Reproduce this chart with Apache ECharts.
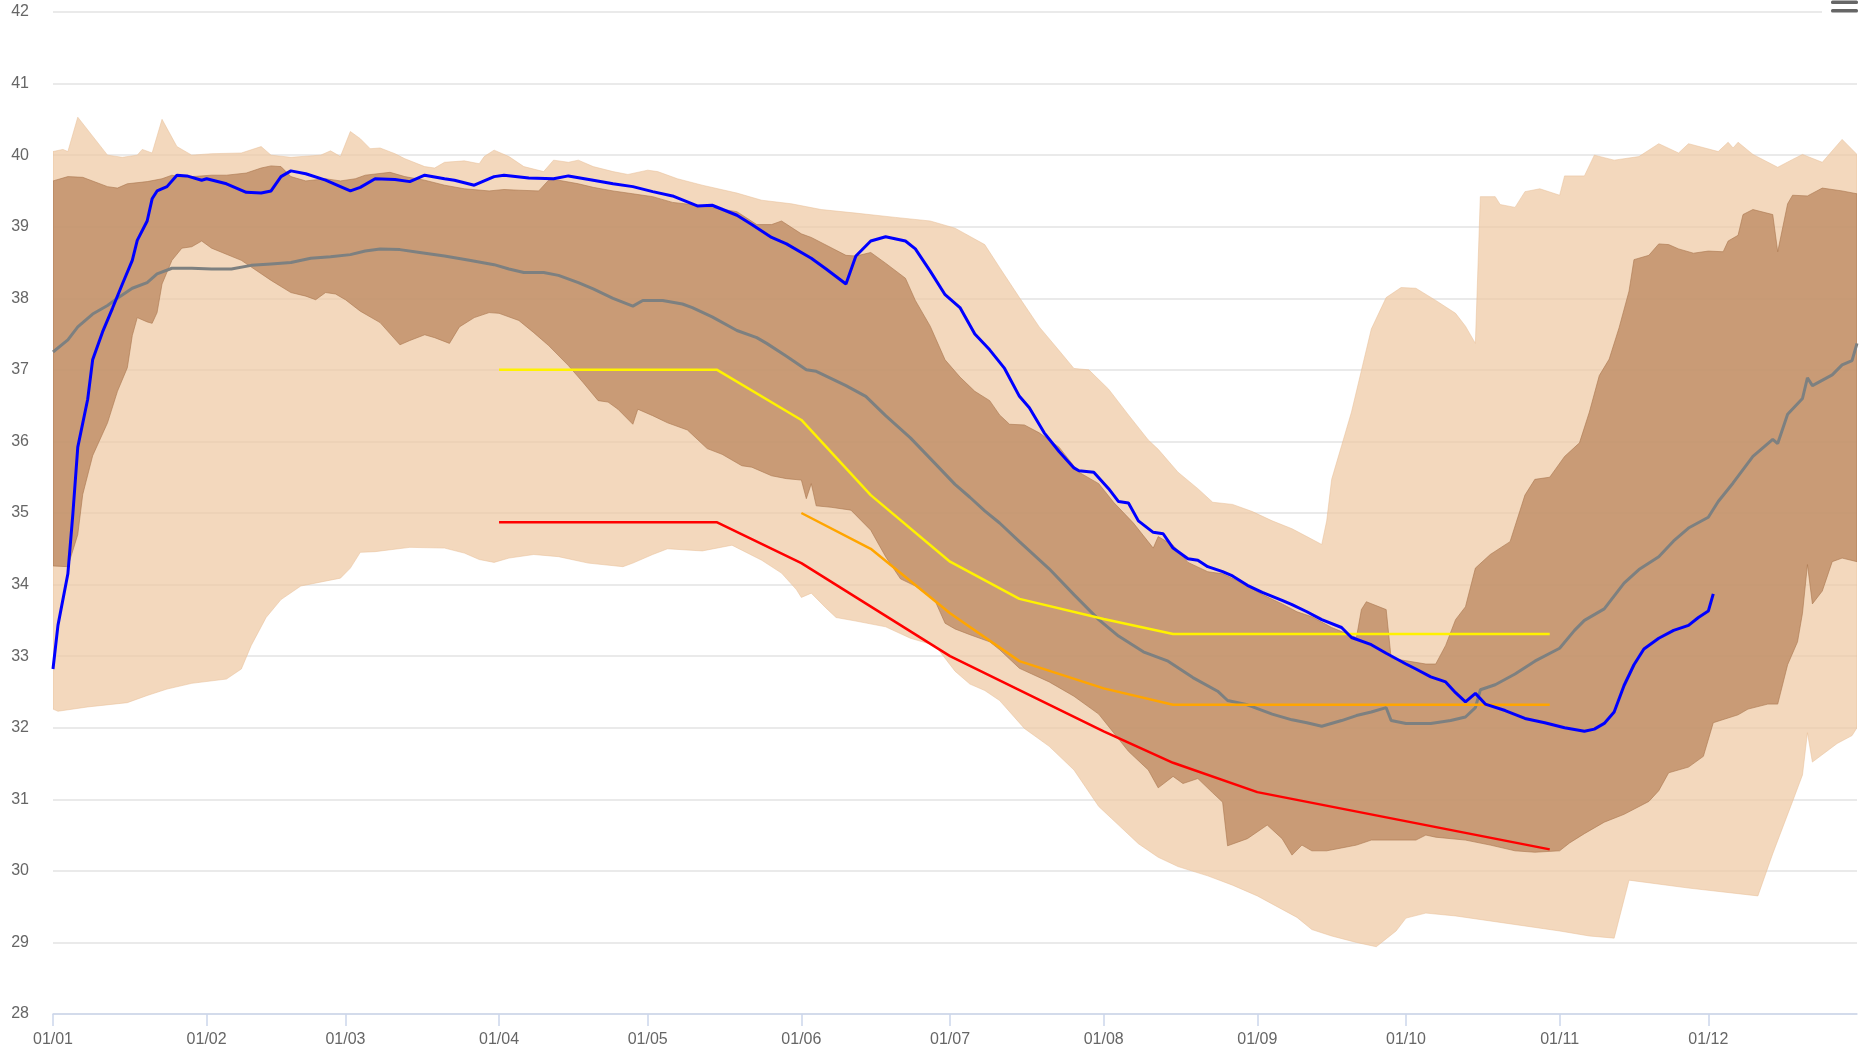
<!DOCTYPE html>
<html><head><meta charset="utf-8">
<script src="https://cdn.jsdelivr.net/npm/echarts@6/dist/echarts.min.js"></script>
<style>html,body{margin:0;padding:0;background:#fff;overflow:hidden}#c{width:1860px;height:1054px}</style>
</head><body><div id="c"></div>
<script>
// ---- axis data ----
const monthLengths = [31,28,31,30,31,30,31,31,30,31,30,31];
const yMin = 28, yMax = 42, yStep = 1;

// ---- series data: [dayOfYear (0 = 01/01), value] ----
const lightUpper = [[0,40.05],[2,40.08],[3,40.05],[5,40.53],[11,40.0],[14,39.97],[17,40.0],[18,40.08],[20,40.03],[22,40.5],[25,40.12],[28,40.0],[32,40.02],[38,40.03],[42,40.12],[44,40.0],[48,39.97],[54,40.0],[56,40.06],[58,39.98],[60,40.33],[62,40.23],[64,40.09],[66,40.1],[69,40.02],[71,39.95],[75,39.84],[77,39.82],[79,39.9],[83,39.92],[86,39.88],[87,39.98],[89,40.07],[92,39.98],[95,39.84],[99,39.77],[101,39.93],[104,39.9],[106,39.93],[109,39.84],[113,39.77],[116,39.73],[120,39.79],[122,39.77],[126,39.67],[131,39.58],[138,39.47],[143,39.37],[149,39.32],[155,39.24],[162,39.19],[170,39.13],[177,39.08],[182,38.98],[188,38.75],[191,38.43],[195,38.01],[199,37.6],[203,37.27],[206,37.02],[209,37.0],[213,36.73],[217,36.37],[221,36.02],[223,35.89],[227,35.57],[231,35.34],[234,35.15],[238,35.12],[242,35.02],[246,34.89],[250,34.78],[253,34.67],[256,34.56],[257,34.89],[258,35.47],[260,35.94],[262,36.41],[264,36.99],[266,37.57],[269,38.01],[272,38.15],[275,38.14],[279,37.97],[283,37.79],[285,37.61],[287,37.37],[288,39.42],[291,39.42],[292,39.31],[295,39.27],[297,39.49],[300,39.53],[304,39.44],[305,39.71],[309,39.71],[311,40.0],[315,39.93],[320,39.98],[324,40.16],[328,40.03],[330,40.16],[336,40.05],[338,40.18],[339,40.1],[340,40.18],[343,40.01],[348,39.83],[351,39.94],[353,40.01],[357,39.9],[361,40.22],[364,40.01]];
const lightLower = [[0,32.26],[1,32.23],[7,32.29],[15,32.35],[19,32.45],[23,32.54],[28,32.62],[35,32.68],[38,32.82],[40,33.15],[43,33.54],[46,33.79],[50,33.98],[58,34.09],[60,34.23],[62,34.45],[65,34.46],[72,34.52],[79,34.51],[83,34.44],[86,34.35],[89,34.31],[92,34.37],[97,34.42],[102,34.39],[108,34.3],[115,34.25],[117,34.3],[121,34.42],[124,34.5],[131,34.47],[137,34.55],[143,34.34],[147,34.16],[150,33.93],[151,33.82],[153,33.88],[156,33.67],[158,33.54],[162,33.49],[168,33.41],[173,33.25],[178,33.15],[182,32.79],[185,32.61],[188,32.52],[191,32.38],[196,31.99],[201,31.74],[206,31.41],[211,30.9],[215,30.64],[219,30.38],[223,30.19],[227,30.06],[233,29.93],[238,29.8],[243,29.65],[247,29.5],[251,29.35],[254,29.18],[258,29.09],[263,29.0],[267,28.94],[271,29.16],[273,29.34],[277,29.41],[283,29.37],[290,29.3],[297,29.23],[304,29.16],[310,29.09],[315,29.06],[318,29.87],[330,29.76],[344,29.65],[347,30.24],[351,30.97],[353,31.34],[354,31.93],[355,31.52],[360,31.78],[363,31.89],[364,32.0]];
const darkUpper = [[0,39.64],[3,39.7],[6,39.69],[11,39.56],[13,39.54],[15,39.6],[19,39.63],[22,39.67],[24,39.72],[26,39.69],[32,39.72],[35,39.72],[39,39.75],[42,39.82],[44,39.85],[46,39.84],[48,39.7],[51,39.64],[55,39.67],[58,39.64],[61,39.67],[63,39.72],[68,39.76],[71,39.7],[75,39.65],[79,39.58],[83,39.53],[88,39.5],[91,39.52],[94,39.51],[98,39.5],[100,39.65],[102,39.65],[106,39.6],[109,39.55],[113,39.5],[117,39.46],[121,39.42],[125,39.34],[130,39.3],[138,39.21],[142,39.03],[145,39.03],[147,39.08],[151,38.9],[153,38.85],[160,38.6],[162,38.59],[165,38.64],[168,38.49],[172,38.28],[174,37.97],[177,37.61],[180,37.14],[183,36.9],[186,36.7],[189,36.57],[191,36.37],[193,36.24],[196,36.23],[199,36.12],[203,35.92],[207,35.57],[211,35.41],[214,35.15],[218,34.86],[222,34.51],[223,34.67],[226,34.55],[229,34.31],[233,34.18],[236,34.15],[240,34.02],[244,33.86],[248,33.73],[251,33.62],[254,33.55],[258,33.4],[263,33.26],[264,33.65],[265,33.76],[269,33.65],[270,32.97],[277,32.89],[279,32.89],[281,33.15],[283,33.51],[285,33.69],[287,34.23],[290,34.42],[294,34.6],[297,35.25],[299,35.47],[302,35.5],[305,35.79],[308,35.98],[310,36.41],[312,36.92],[314,37.15],[316,37.59],[318,38.1],[319,38.54],[322,38.6],[324,38.76],[326,38.75],[328,38.69],[331,38.63],[334,38.66],[337,38.65],[338,38.8],[340,38.88],[341,39.17],[343,39.24],[347,39.17],[348,38.65],[350,39.32],[351,39.44],[354,39.43],[357,39.54],[361,39.5],[364,39.46]];
const darkLower = [[0,34.26],[3,34.25],[5,34.7],[6,35.26],[8,35.8],[11,36.26],[13,36.7],[15,37.03],[16,37.48],[17,37.73],[19,37.67],[20,37.65],[21,37.8],[22,38.2],[24,38.53],[26,38.7],[28,38.72],[30,38.8],[32,38.7],[38,38.53],[44,38.25],[48,38.08],[51,38.03],[53,37.98],[55,38.08],[57,38.06],[59,37.98],[62,37.82],[66,37.66],[70,37.35],[72,37.41],[75,37.49],[77,37.45],[80,37.37],[82,37.6],[85,37.73],[88,37.8],[90,37.79],[94,37.69],[97,37.52],[100,37.34],[104,37.06],[107,36.82],[110,36.57],[112,36.55],[114,36.45],[117,36.24],[118,36.45],[121,36.36],[124,36.26],[128,36.16],[132,35.9],[135,35.82],[139,35.66],[141,35.64],[145,35.52],[148,35.48],[151,35.46],[152,35.2],[153,35.41],[154,35.1],[157,35.08],[161,35.04],[165,34.76],[168,34.39],[171,34.08],[174,33.98],[178,33.77],[180,33.46],[182,33.38],[185,33.3],[189,33.2],[191,33.09],[195,32.83],[201,32.64],[206,32.44],[211,32.19],[214,31.93],[217,31.67],[221,31.41],[223,31.16],[226,31.32],[228,31.22],[231,31.29],[234,31.09],[236,30.96],[237,30.35],[241,30.45],[245,30.64],[248,30.45],[250,30.22],[252,30.36],[254,30.28],[257,30.28],[260,30.32],[263,30.36],[266,30.43],[275,30.43],[277,30.5],[279,30.47],[285,30.43],[290,30.36],[295,30.28],[299,30.26],[304,30.28],[306,30.39],[309,30.52],[313,30.68],[317,30.79],[322,30.97],[324,31.12],[326,31.37],[330,31.45],[333,31.6],[335,32.07],[340,32.18],[342,32.26],[346,32.33],[348,32.33],[350,32.88],[352,33.2],[353,33.6],[354,34.28],[355,33.73],[357,33.91],[359,34.32],[361,34.37],[364,34.32]];
const median = [[0,37.25],[3,37.42],[5,37.6],[8,37.78],[11,37.9],[13,38.0],[16,38.14],[19,38.22],[21,38.34],[24,38.42],[28,38.42],[32,38.41],[36,38.41],[40,38.46],[44,38.48],[48,38.5],[52,38.56],[56,38.58],[60,38.61],[63,38.66],[66,38.69],[70,38.68],[74,38.64],[79,38.59],[84,38.53],[89,38.47],[92,38.41],[95,38.36],[99,38.36],[102,38.32],[106,38.22],[109,38.13],[113,38.0],[117,37.89],[119,37.97],[123,37.97],[127,37.92],[129,37.87],[133,37.74],[138,37.55],[142,37.45],[144,37.37],[148,37.19],[152,37.0],[154,36.98],[160,36.78],[164,36.63],[168,36.36],[173,36.05],[178,35.69],[182,35.4],[185,35.22],[188,35.03],[191,34.86],[195,34.6],[201,34.22],[206,33.86],[211,33.51],[215,33.28],[220,33.06],[225,32.93],[230,32.7],[235,32.51],[237,32.38],[241,32.32],[246,32.19],[250,32.11],[253,32.07],[256,32.02],[260,32.1],[263,32.17],[266,32.22],[269,32.28],[270,32.1],[273,32.06],[278,32.06],[282,32.1],[285,32.15],[287,32.28],[288,32.53],[291,32.6],[295,32.75],[299,32.93],[304,33.11],[307,33.36],[309,33.5],[313,33.66],[317,34.02],[320,34.21],[324,34.39],[327,34.61],[330,34.79],[334,34.94],[336,35.16],[339,35.42],[343,35.79],[347,36.03],[348,35.97],[350,36.38],[353,36.6],[354,36.89],[355,36.78],[359,36.93],[361,37.07],[363,37.13],[364,37.37]];
const current = [[0,32.82],[1,33.43],[3,34.15],[4,34.98],[5,35.92],[7,36.59],[8,37.14],[10,37.53],[12,37.86],[14,38.2],[16,38.53],[17,38.81],[19,39.08],[20,39.39],[21,39.5],[23,39.56],[25,39.72],[27,39.71],[30,39.65],[31,39.67],[35,39.6],[39,39.48],[42,39.47],[44,39.5],[46,39.7],[48,39.78],[51,39.74],[55,39.65],[58,39.56],[60,39.5],[62,39.55],[65,39.67],[69,39.66],[72,39.63],[75,39.72],[79,39.67],[81,39.65],[85,39.58],[89,39.7],[91,39.72],[96,39.68],[101,39.67],[104,39.71],[109,39.65],[113,39.6],[117,39.56],[121,39.49],[125,39.43],[130,39.29],[133,39.3],[138,39.16],[141,39.03],[145,38.85],[148,38.76],[153,38.56],[156,38.41],[160,38.2],[162,38.59],[165,38.8],[168,38.86],[172,38.8],[174,38.69],[177,38.38],[180,38.05],[183,37.87],[186,37.5],[189,37.28],[192,37.02],[195,36.63],[197,36.47],[200,36.12],[203,35.86],[206,35.63],[207,35.59],[210,35.57],[213,35.34],[215,35.16],[217,35.14],[219,34.89],[222,34.73],[224,34.71],[226,34.51],[229,34.36],[231,34.34],[233,34.25],[236,34.18],[238,34.12],[241,33.99],[244,33.89],[248,33.78],[250,33.72],[253,33.62],[256,33.51],[260,33.4],[262,33.26],[266,33.16],[269,33.04],[273,32.89],[275,32.82],[278,32.71],[281,32.64],[283,32.49],[285,32.36],[287,32.48],[289,32.33],[293,32.24],[297,32.13],[301,32.07],[305,32.0],[309,31.95],[311,31.98],[313,32.06],[315,32.22],[317,32.59],[319,32.88],[321,33.1],[324,33.25],[327,33.36],[330,33.43],[332,33.54],[334,33.63],[335,33.87]];
const yellowLine = [[90,37.0],[134,37.0],[151,36.3],[165,35.25],[181,34.32],[195,33.8],[212,33.52],[226,33.31],[302,33.31]];
const orangeLine = [[151,35.0],[165,34.5],[181,33.6],[195,32.93],[212,32.55],[226,32.32],[302,32.32]];
const redLine = [[90,34.87],[134,34.87],[151,34.3],[181,33.0],[212,31.95],[226,31.51],[243,31.1],[302,30.3]];

// ---- categories (DD/MM) ----
const pad = n => (n < 10 ? '0' : '') + n;
const categories = [];
monthLengths.forEach((len, m) => { for (let d = 1; d <= len; d++) categories.push(pad(d) + '/' + pad(m + 1)); });
const isMonthStart = (i, v) => v.slice(0, 2) === '01';

function band(upper, lower, fill, stroke, z) {
  return {
    type: 'custom', silent: true, z: z, clip: true,
    data: [[0, yMin]],
    renderItem: function (params, api) {
      const pts = [];
      upper.forEach(p => pts.push(api.coord(p)));
      for (let i = lower.length - 1; i >= 0; i--) pts.push(api.coord(lower[i]));
      return { type: 'polygon', shape: { points: pts }, style: { fill: fill, stroke: stroke, lineWidth: 1 } };
    }
  };
}
function line(data, color, width, z) {
  return { type: 'line', data: data, symbol: 'none', showSymbol: false, silent: true, z: z,
    lineStyle: { color: color, width: width }, itemStyle: { color: color } };
}

const chart = echarts.init(document.getElementById('c'));
chart.setOption({
  animation: false,
  backgroundColor: '#ffffff',
  textStyle: { fontFamily: 'Liberation Sans, Arial, sans-serif' },
  grid: { left: 53, right: 3, top: 12, bottom: 40 },
  xAxis: {
    type: 'category', data: categories, boundaryGap: false,
    axisLine: { lineStyle: { color: '#ccd6eb', width: 1.5 } },
    axisTick: { show: true, interval: isMonthStart, length: 12, lineStyle: { color: '#ccd6eb', width: 1.5 } },
    axisLabel: { interval: isMonthStart, color: '#666666', fontSize: 16, margin: 18 },
    splitLine: { show: false }
  },
  yAxis: {
    type: 'value', min: yMin, max: yMax, interval: yStep,
    axisLine: { show: false }, axisTick: { show: false },
    axisLabel: { color: '#666666', fontSize: 16, margin: 24 },
    splitLine: { lineStyle: { color: '#e3e3e3', width: 1.5 } }
  },
  graphic: [
    { type: 'rect', shape: { x: 1822, y: 0, width: 38, height: 22 }, style: { fill: '#ffffff' }, z: 100 },
    { type: 'rect', shape: { x: 1831, y: 0.5, width: 27, height: 3.5, r: 1.5 }, style: { fill: '#666666' }, z: 101 },
    { type: 'rect', shape: { x: 1831, y: 9, width: 27, height: 3.5, r: 1.5 }, style: { fill: '#666666' }, z: 101 }
  ],
  series: [
    band(lightUpper, lightLower, 'rgba(238,199,161,0.7)', 'rgba(232,190,150,0.5)', 1),
    band(darkUpper, darkLower, 'rgba(182,129,88,0.7)', 'rgba(170,118,78,0.6)', 2),
    line(median, '#7d8080', 3, 3),
    line(yellowLine, '#fff200', 2.5, 4),
    line(orangeLine, '#ffa500', 2.5, 4),
    line(redLine, '#ff0000', 2.5, 4),
    line(current, '#0000ff', 3, 5)
  ]
});
</script></body></html>
